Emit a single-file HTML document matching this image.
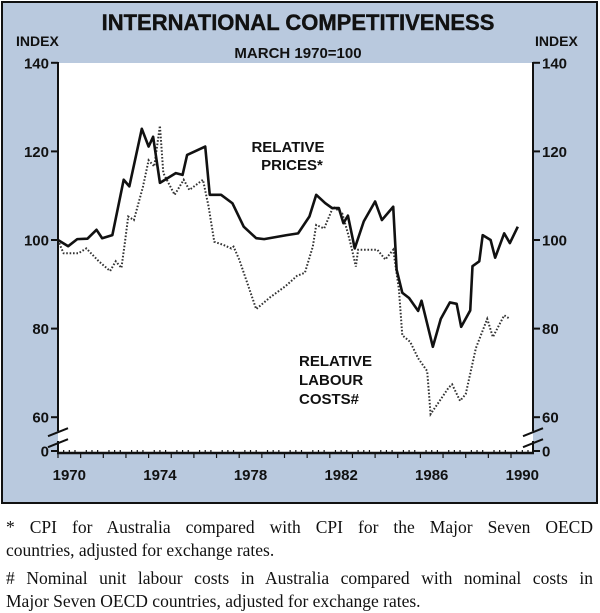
<!DOCTYPE html>
<html><head><meta charset="utf-8"><style>
body{margin:0;background:#fff;width:600px;height:613px;overflow:hidden;font-family:"Liberation Sans",sans-serif}
.fn{position:absolute;left:6px;width:587px;font-family:"Liberation Serif",serif;font-size:17.5px;color:#111;white-space:nowrap}
.j{text-align:justify;text-align-last:justify}
</style></head><body>
<svg width="600" height="613" style="position:absolute;left:0;top:0" xmlns="http://www.w3.org/2000/svg">
<rect x="2" y="2" width="595" height="501" fill="#b9c9de" stroke="#111" stroke-width="2"/>
<rect x="58" y="63" width="475" height="390" fill="#fff"/>
<text x="298" y="30" text-anchor="middle" font-size="22" font-weight="bold" fill="#111" stroke="#111" stroke-width="0.4">INTERNATIONAL COMPETITIVENESS</text>
<text x="298" y="58" text-anchor="middle" font-size="15" font-weight="bold" fill="#111">MARCH 1970=100</text>
<text x="16" y="46" font-size="14" font-weight="bold" fill="#111">INDEX</text>
<text x="535" y="46" font-size="14" font-weight="bold" fill="#111">INDEX</text>
<g id="axes"></g>
<g id="series"></g>
<text font-size="15" font-weight="bold" fill="#111" text-anchor="middle"><tspan x="288" y="152">RELATIVE</tspan><tspan x="292" y="170">PRICES*</tspan></text>
<text font-size="15" font-weight="bold" fill="#111"><tspan x="299" y="366">RELATIVE</tspan><tspan x="299" y="385">LABOUR</tspan><tspan x="299" y="404">COSTS#</tspan></text>
</svg>
<div class="fn j" style="top:517px">* CPI for Australia compared with CPI for the Major Seven OECD</div>
<div class="fn" style="top:540px">countries, adjusted for exchange rates.</div>
<div class="fn j" style="top:568px"># Nominal unit labour costs in Australia compared with nominal costs in</div>
<div class="fn" style="top:591px">Major Seven OECD countries, adjusted for exchange rates.</div>
<script>
const yTicks=[140,120,100,80,60];
const xLabels=[1970,1974,1978,1982,1986,1990];
const priceT=[1970.0,1970.45,1970.85,1971.3,1971.7,1971.95,1972.4,1972.9,1973.15,1973.7,1974.0,1974.2,1974.5,1975.2,1975.5,1975.7,1976.0,1976.5,1976.7,1977.2,1977.7,1978.2,1978.75,1979.1,1980.1,1980.6,1981.1,1981.4,1981.8,1982.1,1982.4,1982.6,1982.8,1983.1,1983.5,1984.0,1984.3,1984.8,1984.95,1985.2,1985.5,1985.9,1986.05,1986.55,1986.9,1987.3,1987.6,1987.8,1988.2,1988.3,1988.6,1988.75,1989.1,1989.3,1989.7,1989.95,1990.3];
const priceV=[100,98.6,100.2,100.3,102.3,100.4,101.1,113.6,112.1,125.1,121.1,123.3,112.9,115.1,114.7,119.2,119.9,121.1,110.2,110.2,108.3,103,100.4,100.2,101.1,101.5,105.3,110.2,108.3,107.2,107.2,103.8,105.5,98.1,104.2,108.7,104.5,107.5,93.3,88.1,86.9,84.0,86.3,75.9,82.2,85.9,85.6,80.4,84.1,94.1,95.2,101.1,100,96,101.5,99.3,103];
const labourT=[1970.0,1970.15,1970.25,1970.9,1971.25,1971.8,1972.3,1972.55,1972.8,1972.95,1973.1,1973.35,1973.75,1974.0,1974.25,1974.5,1974.65,1975.15,1975.55,1975.8,1976.4,1976.65,1976.9,1977.3,1977.65,1977.75,1978.0,1978.35,1978.75,1979.35,1980.05,1980.55,1980.9,1981.25,1981.4,1981.75,1982.15,1982.55,1982.8,1982.95,1983.15,1983.25,1983.7,1984.1,1984.45,1984.8,1985.05,1985.2,1985.55,1985.9,1986.3,1986.45,1986.8,1987.25,1987.4,1987.75,1988.0,1988.45,1988.95,1989.2,1989.7,1989.95];
const labourV=[100,98.1,97,97,98.1,95.2,93,95.2,93.7,99.3,105.3,104.5,112,118,116.6,125.8,115.1,110.2,113.6,111.3,113.6,107.5,99.6,98.9,98.1,98.5,95.6,90.4,84.4,87,89.6,91.9,92.6,98.5,103.4,102.6,107.5,106,101.5,98.5,94,97.8,97.8,97.8,95.6,97.8,88.9,78.5,77,73.3,70.4,60.7,63.3,66.7,67.4,63.7,65.2,75.6,82.2,78.1,83,82.2];
const NS="http://www.w3.org/2000/svg";
const L=58,R=533,B=453;
function x(t){return L+(t-1970)*22.65;}
function y(v){return 240-(v-100)*4.43;}
function mk(tag,attrs,parent){const e=document.createElementNS(NS,tag);for(const k in attrs)e.setAttribute(k,attrs[k]);parent.appendChild(e);return e;}
const ax=document.getElementById('axes');
for(const side of [L,R]){
  const a=mk('line',{x1:side,y1:62,x2:side,y2:y(60)+14,stroke:'#111','stroke-width':2},ax);
  
  
  const b=mk('line',{x1:side,y1:B-12,x2:side,y2:B+1,stroke:'#111','stroke-width':2},ax);
  
  
  for(const dy of [0,11]){
    const s=mk('line',{x1:side-10,y1:y(60)+19+dy,x2:side+10,y2:y(60)+11+dy,stroke:'#111','stroke-width':2},ax);
    
    
  }
}
const ticks=yTicks.map(v=>[v,y(v)]).concat([[0,B-2]]);
for(const [v,py] of ticks){
  for(const side of [0,1]){
    const tx=side?R:L;
    const t=mk('line',{x1:tx,y1:py,x2:side?tx+7:tx-7,y2:py,stroke:'#111','stroke-width':2},ax);
    
    
    const lb=mk('text',{x:side?tx+9:tx-9,y:py+5.5,'font-size':15,'font-weight':'bold','text-anchor':side?'start':'end',fill:'#111'},ax);
    lb.textContent=v;
    
    
  }
}
const xa=mk('line',{x1:L-1,y1:B,x2:R+1,y2:B,stroke:'#111','stroke-width':2.5},ax);


for(let q=0;q<=84;q++){
  const px=x(1970+q/4);
  if(px>R)break;
  const mt=mk('line',{x1:px,y1:B,x2:px,y2:q%4===0?B+5:B-3,stroke:'#111','stroke-width':1.2},ax);
  
  
}
for(const yr of xLabels){
  const lb=mk('text',{x:x(yr+0.5),y:480,'font-size':15,'font-weight':'bold','text-anchor':'middle',fill:'#111'},ax);
  lb.textContent=yr;
  
  
}
const sg=document.getElementById('series');
const lab=mk('polyline',{points:labourT.map((t,i)=>x(t)+','+y(labourV[i])).join(' '),fill:'none',stroke:'#333','stroke-width':2,'stroke-dasharray':'1.6,1.8'},sg);


const pr=mk('polyline',{points:priceT.map((t,i)=>x(t)+','+y(priceV[i])).join(' '),fill:'none',stroke:'#111','stroke-width':2.6,'stroke-linejoin':'round'},sg);


</script>
</body></html>
